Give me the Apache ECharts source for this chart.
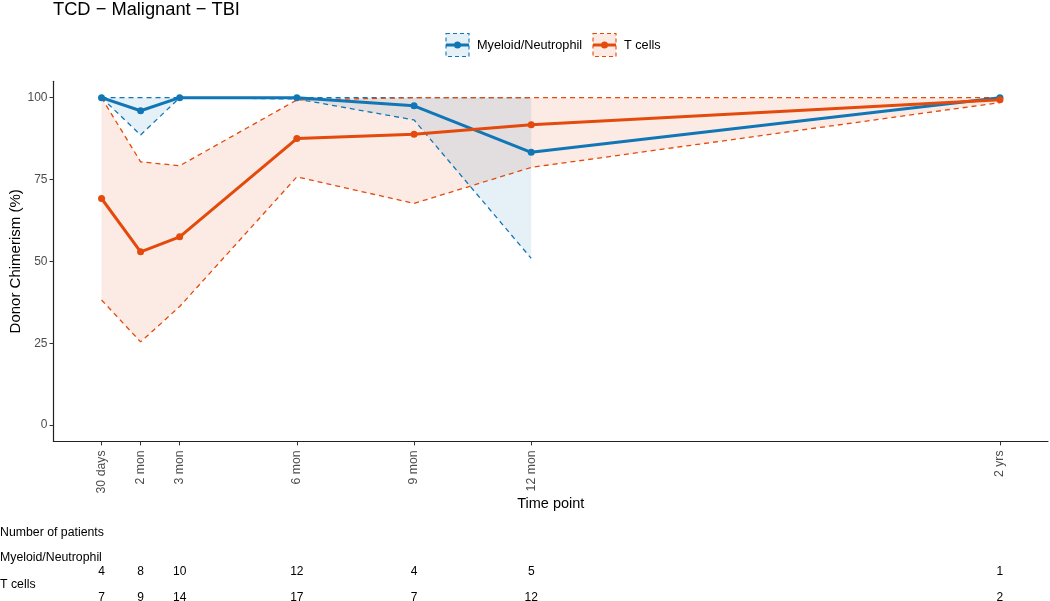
<!DOCTYPE html>
<html>
<head>
<meta charset="utf-8">
<script src="https://cdn.jsdelivr.net/npm/echarts@6/dist/echarts.min.js"></script>
<style>html,body{margin:0;padding:0;background:#fff}#c{width:1050px;height:601px}</style>
</head>
<body>
<div id="c"></div>
<script>
const months = [1, 2, 3, 6, 9, 12, 24];
const tickLabels = ['30 days', '2 mon', '3 mon', '6 mon', '9 mon', '12 mon', '2 yrs'];
const yTicks = [0, 25, 50, 75, 100];
const myeloidMean = [100, 96.0, 100, 100, 97.5, 83.3, 100];
const myeloidLower = [100, 88.6, 100, 99.6, 93.2, 50.9, null];
const myeloidUpper = [100, 100, 100, 100, 100, 100, null];
const tcellMean = [69.2, 52.9, 57.5, 87.5, 88.8, 91.7, 99.4];
const tcellLower = [38.2, 25.4, 36.2, 75.8, 67.7, 78.7, 98.5];
const tcellUpper = [100, 80.4, 79.2, 99.3, 100, 100, 100];
const myeloidN = [4, 8, 10, 12, 4, 5, 1];
const tcellN = [7, 9, 14, 17, 7, 12, 2];

const BLUE = '#1176B6';
const ORANGE = '#E34A0C';
const BLUE_FILL = 'rgba(17,118,182,0.11)';
const ORANGE_FILL = 'rgba(227,74,12,0.11)';
const FONT = '"Liberation Sans", Arial, sans-serif';
const XMIN = -0.23, XMAX = 25.23;

function pairs(ys) {
  return months.map((m, i) => [m, ys[i]]).filter(d => d[1] != null);
}
function ribbon(lower, upper, fill, z) {
  const pts = months.map((m, i) => [m, lower[i], upper[i]]).filter(d => d[1] != null && d[2] != null);
  return {
    type: 'custom', data: pts, silent: true, z: z, clip: false, animation: false,
    encode: { x: 0, y: [1, 2] },
    renderItem(params, api) {
      if (params.dataIndex !== 0) return null;
      const top = pts.map(d => api.coord([d[0], d[2]]));
      const bot = pts.map(d => api.coord([d[0], d[1]])).reverse();
      return { type: 'polygon', shape: { points: top.concat(bot) }, style: { fill: fill } };
    }
  };
}
function dashed(ys, color) {
  return {
    type: 'line', data: pairs(ys), symbol: 'none', silent: true, z: 3, animation: false,
    lineStyle: { color: color, width: 1.3, type: [5, 4] }
  };
}
function meanLine(ys, color, z) {
  return {
    type: 'line', data: pairs(ys), symbol: 'circle', symbolSize: 7, z: z, animation: false,
    lineStyle: { color: color, width: 3 }, itemStyle: { color: color }
  };
}
function countAxis(counts, offset) {
  return {
    type: 'value', gridIndex: 0, position: 'bottom', offset: offset, min: XMIN, max: XMAX,
    axisLine: { show: false, onZero: false }, axisTick: { show: false }, splitLine: { show: false },
    axisLabel: {
      customValues: months, margin: 0, color: '#000', fontSize: 12, fontFamily: FONT,
      formatter: v => String(counts[months.indexOf(v)])
    }
  };
}

function legendKey(x, y, color, fill, label) {
  return [
    { type: 'rect', shape: { x: x, y: y, width: 23, height: 23 }, style: { fill: fill, stroke: color, lineWidth: 1.1, lineDash: [4, 3] } },
    { type: 'line', shape: { x1: x, y1: y + 11.5, x2: x + 23, y2: y + 11.5 }, style: { stroke: color, lineWidth: 3 } },
    { type: 'circle', shape: { cx: x + 11.5, cy: y + 11.5, r: 3.5 }, style: { fill: color } },
    { type: 'text', x: x + 31, y: y + 12, style: { text: label, fill: '#000', font: '12.7px ' + FONT, verticalAlign: 'middle' } }
  ];
}

const chart = echarts.init(document.getElementById('c'), null, { renderer: 'canvas' });
chart.setOption({
  backgroundColor: '#fff',
  animation: false,
  grid: { left: 53.5, top: 81.3, right: 2, bottom: 159.6, containLabel: false, outerBoundsMode: 'none' },
  xAxis: [
    {
      type: 'value', min: XMIN, max: XMAX,
      name: 'Time point', nameLocation: 'middle', nameGap: 55, nameMoveOverlap: false,
      nameTextStyle: { color: '#000', fontSize: 14.5, fontFamily: FONT, verticalAlign: 'top' },
      axisLine: { onZero: false, lineStyle: { color: '#222', width: 1.2 } },
      axisTick: { customValues: months, length: 4, lineStyle: { color: '#333', width: 1 } },
      splitLine: { show: false },
      axisLabel: {
        customValues: months, rotate: 90, margin: 9, color: '#4D4D4D', fontSize: 12.3, fontFamily: FONT,
        formatter: v => tickLabels[months.indexOf(v)]
      }
    },
    countAxis(myeloidN, 124.5),
    countAxis(tcellN, 150.5)
  ],
  yAxis: {
    type: 'value', min: -5, max: 105,
    name: 'Donor Chimerism (%)', nameLocation: 'middle', nameGap: 30, nameMoveOverlap: false,
    nameTextStyle: { color: '#000', fontSize: 15, fontFamily: FONT },
    axisLine: { show: true, onZero: false, lineStyle: { color: '#222', width: 1.2 } },
    axisTick: { show: true, customValues: yTicks, length: 4, lineStyle: { color: '#333', width: 1 } },
    splitLine: { show: false },
    axisLabel: { customValues: yTicks, margin: 6, color: '#4D4D4D', fontSize: 12, fontFamily: FONT }
  },
  series: [
    ribbon(tcellLower, tcellUpper, ORANGE_FILL, 1),
    ribbon(myeloidLower, myeloidUpper, BLUE_FILL, 2),
    dashed(myeloidUpper, BLUE),
    dashed(myeloidLower, BLUE),
    dashed(tcellUpper, ORANGE),
    dashed(tcellLower, ORANGE),
    meanLine(myeloidMean, BLUE, 4),
    meanLine(tcellMean, ORANGE, 5)
  ],
  graphic: [
    { type: 'text', left: 53, top: 1, style: { text: 'TCD \u2212 Malignant \u2212 TBI', fill: '#000', font: '18.3px ' + FONT } },
    { type: 'text', left: 0, top: 527, style: { text: 'Number of patients', fill: '#000', font: '12.3px ' + FONT } },
    { type: 'text', left: 0, top: 552, style: { text: 'Myeloid/Neutrophil', fill: '#000', font: '12.3px ' + FONT } },
    { type: 'text', left: 0, top: 579, style: { text: 'T cells', fill: '#000', font: '12.3px ' + FONT } }
  ].concat(legendKey(446, 33.5, BLUE, BLUE_FILL, 'Myeloid/Neutrophil'))
   .concat(legendKey(593, 33.5, ORANGE, ORANGE_FILL, 'T cells'))
});
</script>
</body>
</html>
